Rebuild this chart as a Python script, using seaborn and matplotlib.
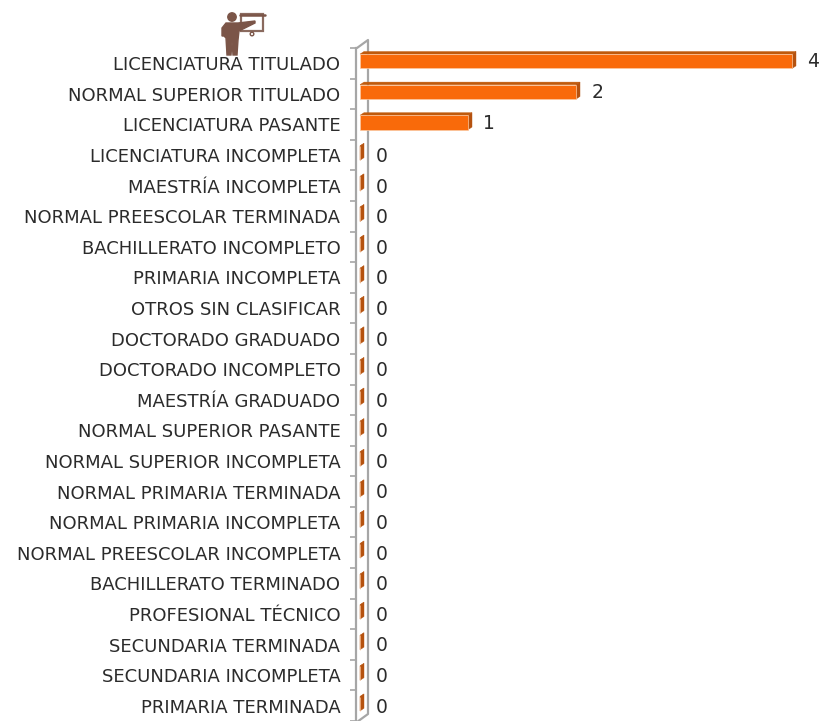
import matplotlib
matplotlib.use("Agg")
import matplotlib.pyplot as plt
from matplotlib.patches import Polygon, Circle, Rectangle
from matplotlib.lines import Line2D
from matplotlib.transforms import ScaledTranslation, IdentityTransform
import seaborn as sns
import pandas as pd

categories = ["LICENCIATURA TITULADO", "NORMAL SUPERIOR TITULADO", "LICENCIATURA PASANTE",
              "LICENCIATURA INCOMPLETA", "MAESTRÍA INCOMPLETA", "NORMAL PREESCOLAR TERMINADA",
              "BACHILLERATO INCOMPLETO", "PRIMARIA INCOMPLETA", "OTROS SIN CLASIFICAR",
              "DOCTORADO GRADUADO", "DOCTORADO INCOMPLETO", "MAESTRÍA GRADUADO",
              "NORMAL SUPERIOR PASANTE", "NORMAL SUPERIOR INCOMPLETA", "NORMAL PRIMARIA TERMINADA",
              "NORMAL PRIMARIA INCOMPLETA", "NORMAL PREESCOLAR INCOMPLETA", "BACHILLERATO TERMINADO",
              "PROFESIONAL TÉCNICO", "SECUNDARIA TERMINADA", "SECUNDARIA INCOMPLETA",
              "PRIMARIA TERMINADA"]
values = [4, 2, 1] + [0] * 19

W, H = 821, 721
GREY = "#A6A6A6"
FRONT, SIDE, TOP = "#F96A0A", "#B5520F", "#C05A0C"

sns.set_theme(style="white")
plt.rcParams["font.family"] = ["DejaVu Sans"]

fig = plt.figure(figsize=(W / 100, H / 100), dpi=100)
band = 30.7
ax_top, ax_bottom, ax_left = 48, 721, 360
ax = fig.add_axes([ax_left / W, 1 - ax_bottom / H, (W - ax_left) / W, (ax_bottom - ax_top) / H])

df = pd.DataFrame({"cat": categories, "val": values})
sns.barplot(data=df, y="cat", x="val", order=categories, color=FRONT, saturation=1,
            width=0.47, ax=ax, zorder=3, edgecolor="#FCC9A2", linewidth=0.5)
ax.set_xlim(0, (W - ax_left) / 108)
ax.set_ylim((ax_bottom - ax_top) / band - 0.5, -0.5)
ax.set(xlabel="", ylabel="")
ax.xaxis.set_visible(False)
ax.patch.set_alpha(0)

for s in ["top", "right", "bottom"]:
    ax.spines[s].set_visible(False)
ax.spines["left"].set_position(("outward", 2.6))
ax.spines["left"].set_color(GREY)
ax.spines["left"].set_linewidth(1.6)

ax.set_yticks(range(len(categories)))
ax.set_yticklabels(categories, fontsize=13.0, color="#2b2b2b")
ax.tick_params(axis="y", which="major", length=0, pad=11.5)
ax.set_yticks([k - 0.5 for k in range(len(categories) + 1)], minor=True)
ax.tick_params(axis="y", which="minor", length=4, width=1.2, color=GREY, left=True)

# depth faces: bars are lifted slightly, with a top and a side face behind them
lift = ScaledTranslation(0, 0.02, fig.dpi_scale_trans)
depth = ScaledTranslation(0.04, 0.026, fig.dpi_scale_trans)
bars = list(ax.patches)
base = ax.transData + lift
back = base + depth
for p, v in zip(bars, values):
    x0, y0, w, h = p.get_x(), p.get_y(), p.get_width(), p.get_height()
    p.set_transform(base)
    top_face = [base.transform((x0, y0)), base.transform((x0 + w, y0)),
                back.transform((x0 + w, y0)), back.transform((x0, y0))]
    side_face = [base.transform((x0 + w, y0)), base.transform((x0 + w, y0 + h)),
                 back.transform((x0 + w, y0 + h)), back.transform((x0 + w, y0))]
    for face, col in ((top_face, TOP), (side_face, SIDE)):
        ax.add_patch(Polygon(face, closed=True, transform=IdentityTransform(), facecolor=col,
                             edgecolor=col, linewidth=0.3, zorder=2.5, clip_on=False))
    ax.annotate(str(v), xy=(v, y0 + h / 2), xytext=(11, -1 if v == 0 else 1), textcoords="offset points",
                va="center", ha="left", fontsize=13.5, color="#2b2b2b")

def px(points):
    return [(x, H - y) for x, y in points]

# back wall of the 3D axis
wall = px([(357, 48), (368, 40), (368, 714), (357, 722)])
fig.add_artist(Line2D(*zip(*wall), transform=IdentityTransform(), color=GREY, lw=1.6, zorder=0))

# presenter icon
BROWN = "#7B5548"
tr = IdentityTransform()
fig.add_artist(Circle((232, H - 17), 4.2, transform=tr, color=BROWN))
fig.add_artist(Polygon(px([(226, 23), (238, 23), (255, 21), (255, 23), (241, 30), (239, 31), (238, 40),
                           (237, 55), (233, 55), (232, 42), (231, 55), (227, 55), (226, 38),
                           (224, 36), (222, 36), (222, 28)]), transform=tr, color=BROWN, zorder=3))
fig.add_artist(Rectangle((241, H - 31), 22, 17, transform=tr, fill=False, edgecolor="#8A6A5E", lw=1.6))
fig.add_artist(Line2D([240, 265], [H - 14.5, H - 14.5], transform=tr, color=BROWN, lw=1.8))
fig.add_artist(Circle((252, H - 34), 1.8, transform=tr, fill=False, edgecolor=BROWN, lw=1))

fig.savefig("out.png", dpi=100)
